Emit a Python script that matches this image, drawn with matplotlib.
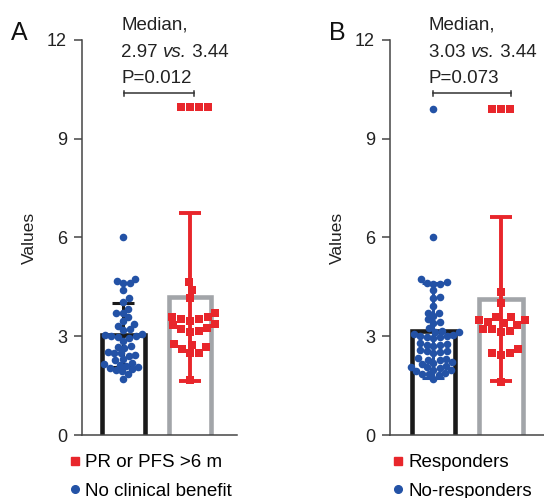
import numpy as np
import matplotlib.pyplot as plt
from matplotlib.lines import Line2D

plt.rcParams['font.family'] = ['Liberation Sans', 'DejaVu Sans']

# Panel A: no clinical benefit (blue) vs PR or PFS >6 m (red)
a_blue = [6.03, 4.74, 4.68, 4.62, 4.62, 4.39, 4.16, 4.05, 3.84, 3.72, 3.72, 3.60,
          3.47, 3.37, 3.31, 3.22, 3.19, 3.06, 3.04, 3.02, 3.00, 2.98, 2.96, 2.87,
          2.70, 2.68, 2.65, 2.52, 2.50, 2.48, 2.42, 2.40, 2.30, 2.28, 2.20, 2.15,
          2.13, 2.11, 2.06, 2.04, 1.99, 1.97, 1.95, 1.85, 1.70]
a_red = [9.95, 9.95, 9.95, 9.95, 4.66, 4.41, 4.15, 3.72, 3.60, 3.58, 3.52, 3.52,
         3.47, 3.37, 3.33, 3.24, 3.22, 3.17, 3.14, 2.76, 2.74, 2.68, 2.60, 2.50,
         2.48, 1.67]
a_means = [3.04, 4.19]
a_sd = [0.98, 2.54]

# Panel B: no-responders (blue) vs responders (red)
b_blue = [9.90, 6.01, 4.73, 4.66, 4.63, 4.60, 4.60, 4.39, 4.18, 4.15, 3.92, 3.72,
          3.72, 3.62, 3.52, 3.44, 3.40, 3.24, 3.16, 3.14, 3.12, 3.07, 3.04, 3.02,
          3.00, 2.98, 2.97, 2.95, 2.78, 2.76, 2.74, 2.72, 2.70, 2.58, 2.56, 2.54,
          2.52, 2.50, 2.33, 2.31, 2.29, 2.27, 2.21, 2.19, 2.17, 2.09, 2.07, 2.06,
          2.05, 1.98, 1.96, 1.94, 1.87, 1.85, 1.84, 1.83, 1.70]
b_red = [9.90, 9.90, 9.90, 4.33, 4.02, 3.58, 3.58, 3.50, 3.50, 3.44, 3.40, 3.34,
         3.21, 3.21, 3.17, 3.14, 2.60, 2.50, 2.48, 2.43, 1.62]
b_means = [3.17, 4.13]
b_sd = [1.45, 2.50]

panels = [
    dict(letter='A', blue=a_blue, red=a_red, means=a_means, sd=a_sd,
         median='2.97', pval='P=0.012', red_label='PR or PFS >6 m',
         blue_label='No clinical benefit', err1='#1a1a1a'),
    dict(letter='B', blue=b_blue, red=b_red, means=b_means, sd=b_sd,
         median='3.03', pval='P=0.073', red_label='Responders',
         blue_label='No-responders', err1='#2352a6'),
]

BLUE = '#2352a6'
RED = '#e8262b'
GRAY = '#a2a5a9'
BLACK = '#1a1a1a'
TXT = '#222222'
PX_X = 66.5   # pixels per x unit
PX_Y = 32.9   # pixels per y unit


def swarm(values, center, diam):
    # simple beeswarm in pixel space: nearest free spot to the center line
    placed = []
    xs, ys = [], []
    cands = [0.0]
    for k in range(1, 200):
        cands += [k * 0.5, -k * 0.5]
    for v in sorted(values):
        py = v * PX_Y
        for off in cands:
            if all((off - qx) ** 2 + (py - qy) ** 2 >= diam ** 2 for qx, qy in placed):
                break
        placed.append((off, py))
        xs.append(center + off / PX_X)
        ys.append(v)
    return xs, ys


fig = plt.figure(figsize=(5.44, 4.98), dpi=100)
axes_pos = [[82 / 544, 63 / 498, 155 / 544, 395 / 498],
            [390 / 544, 63 / 498, 154 / 544, 395 / 498]]
xlims = [(0.376, 2.707), (0.356, 2.637)]
text_x = [0.97, 0.93]
bracket_x = [(1.01, 2.06), (1.0, 2.15)]
letter_x = [19, 337]
legend_x = [69.5, 392.5]

for p, pos, xl, tx, bx, lx, gx in zip(panels, axes_pos, xlims, text_x,
                                       bracket_x, letter_x, legend_x):
    ax = fig.add_axes(pos)
    w = 0.64
    # bar outlines (open bars)
    for c, m, col in zip([1, 2], p['means'], [BLACK, GRAY]):
        ax.plot([c - w / 2, c - w / 2, c + w / 2, c + w / 2], [0, m, m, 0],
                color=col, lw=3.3, solid_joinstyle='miter', zorder=2)
    ax.errorbar([1], [p['means'][0]], yerr=[p['sd'][0]], fmt='none',
                ecolor=p['err1'], elinewidth=2.2, capsize=8, capthick=2.2, zorder=3)
    bxs, bys = swarm(p['blue'], 1, 6.4)
    ax.scatter(bxs, bys, s=30, marker='o', color=BLUE, linewidths=0, zorder=4,
               clip_on=False)
    rxs, rys = swarm(p['red'], 2, 8.8)
    ax.scatter(rxs, rys, s=27, marker='s', color=RED, linewidths=0, zorder=4,
               clip_on=False)
    ax.errorbar([2], [p['means'][1]], yerr=[p['sd'][1]], fmt='none',
                ecolor=RED, elinewidth=2.8, capsize=8, capthick=2.8, zorder=5)

    ax.set_xlim(*xl)
    ax.set_ylim(0, 12)
    ax.set_yticks([0, 3, 6, 9, 12])
    ax.set_xticks([])
    for s in ['top', 'right']:
        ax.spines[s].set_visible(False)
    for s in ['left', 'bottom']:
        ax.spines[s].set_color('#454545')
        ax.spines[s].set_linewidth(1.1)
    ax.tick_params(axis='y', length=5.8, width=1.1, color='#454545',
                   labelsize=13, labelcolor=TXT, pad=5)
    ax.set_ylabel('Values', fontsize=12.5, color=TXT, labelpad=7)

    # annotation above the bars
    ax.text(tx, 12.47, 'Median,', fontsize=13.5, ha='left', va='center',
            color=TXT, clip_on=False)
    t1 = ax.text(tx, 11.63, p['median'] + ' ', fontsize=13.5, ha='left',
                 va='center', color=TXT, clip_on=False)
    t2 = ax.annotate('vs.', xy=(1, 0), xycoords=t1, ha='left', va='bottom',
                     fontsize=13.5, style='italic', color=TXT)
    ax.annotate(' 3.44', xy=(1, 0), xycoords=t2, ha='left', va='bottom',
                fontsize=13.5, color=TXT)
    ax.text(tx, 10.83, p['pval'], fontsize=13.5, ha='left', va='center',
            color=TXT, clip_on=False)
    ax.plot([bx[0], bx[1]], [10.38, 10.38], color='#333333', lw=1.1, clip_on=False)
    for xe in bx:
        ax.plot([xe, xe], [10.3, 10.46], color='#333333', lw=1.1, clip_on=False)

    fig.text(lx / 544, 1 - 33 / 498, p['letter'], fontsize=18, ha='center',
             va='center', color='#111111')

    handles = [Line2D([], [], marker='s', color=RED, ls='none', markersize=5.5,
                      label=p['red_label']),
               Line2D([], [], marker='o', color=BLUE, ls='none', markersize=5.5,
                      label=p['blue_label'])]
    ax.legend(handles=handles, loc='upper left', frameon=False, fontsize=13.5,
              handlelength=0.6, handletextpad=0.24, labelspacing=0.6,
              borderaxespad=0, borderpad=0,
              bbox_to_anchor=(gx / 544, 1 - 454 / 498),
              bbox_transform=fig.transFigure)

fig.savefig('out.png', dpi=100)
